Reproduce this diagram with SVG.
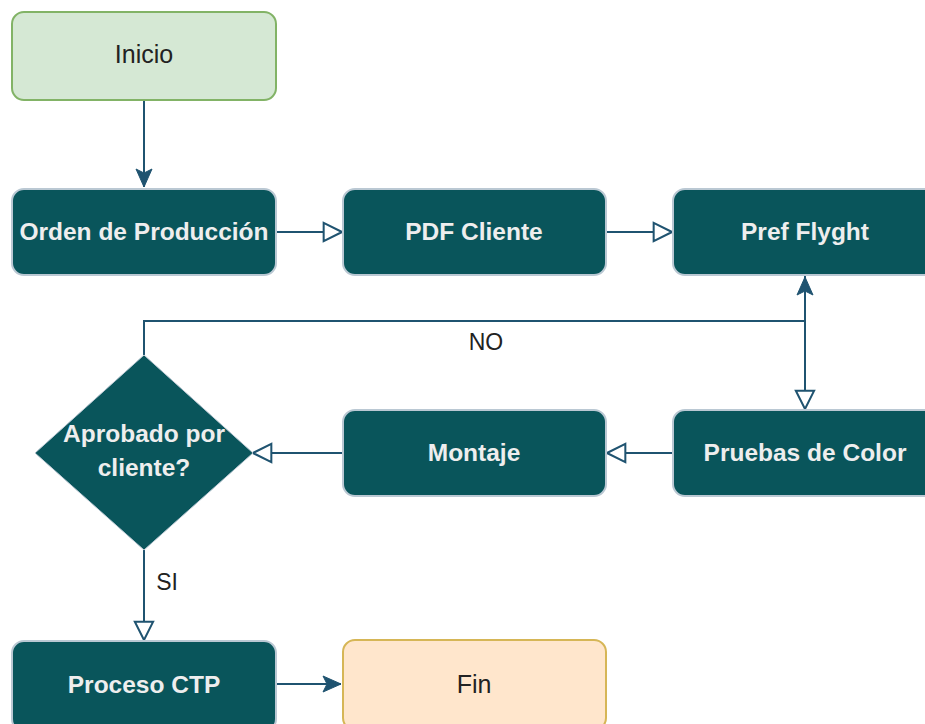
<svg xmlns="http://www.w3.org/2000/svg" width="925" height="724" viewBox="0 0 925 724">
<defs>
<style>
.n{fill:#09555B;stroke:#BAC8D3;stroke-width:2}
.t{font-family:"Liberation Sans",Arial,sans-serif;font-size:24.5px;fill:#EEEEEE;font-weight:bold;text-anchor:middle;dominant-baseline:central}
.d{font-family:"Liberation Sans",Arial,sans-serif;font-size:25px;fill:#222222;text-anchor:middle;dominant-baseline:central}
.l{font-family:"Liberation Sans",Arial,sans-serif;font-size:23px;fill:#222222;text-anchor:middle;dominant-baseline:central}
.c{fill:none;stroke:#1F5370;stroke-width:2}
</style>
<marker id="open" viewBox="0 0 24 24" refX="22" refY="12" markerWidth="22" markerHeight="22" markerUnits="userSpaceOnUse" orient="auto">
<path d="M2,2 L22,12 L2,22 Z" fill="#ffffff" stroke="#1F5370" stroke-width="2.2"/>
</marker>
<marker id="fill" viewBox="0 0 20 20" refX="19" refY="10" markerWidth="20" markerHeight="20" markerUnits="userSpaceOnUse" orient="auto">
<path d="M1,2 L19,10 L1,18 L5,10 Z" fill="#1F5370" stroke="#1F5370" stroke-width="1"/>
</marker>
</defs>
<rect width="925" height="724" fill="#ffffff"/>
<g id="connectors">
<path class="c" d="M144,100 L144,187" marker-end="url(#fill)"/>
<path class="c" d="M276,232 L342,232" marker-end="url(#open)"/>
<path class="c" d="M606,232 L672,232" marker-end="url(#open)"/>
<path class="c" d="M805,275 L805,409" marker-end="url(#open)"/>
<path class="c" d="M144,355 L144,321 L805,321 L805,277" marker-end="url(#fill)"/>
<path class="c" d="M673,453 L607,453" marker-end="url(#open)"/>
<path class="c" d="M343,453 L253,453" marker-end="url(#open)"/>
<path class="c" d="M144,550 L144,640" marker-end="url(#open)"/>
<path class="c" d="M276,684 L341,684" marker-end="url(#fill)"/>
<text class="l" x="486" y="342">NO</text>
<text class="l" x="167" y="582">SI</text>
</g>
<g id="inicio">
<rect x="12" y="12" width="264" height="88" rx="12" fill="#D5E8D4" stroke="#82B366" stroke-width="2"/>
<text class="d" x="144" y="54">Inicio</text>
</g>
<g id="orden">
<rect class="n" x="12" y="189" width="264" height="86" rx="12"/>
<text class="t" x="144" y="231">Orden de Producción</text>
</g>
<g id="pdf">
<rect class="n" x="343" y="189" width="263" height="86" rx="12"/>
<text class="t" x="474" y="231">PDF Cliente</text>
</g>
<g id="pref">
<rect class="n" x="673" y="189" width="264" height="86" rx="12"/>
<text class="t" x="805" y="231">Pref Flyght</text>
</g>
<g id="pruebas">
<rect class="n" x="673" y="410" width="264" height="86" rx="12"/>
<text class="t" x="805" y="452">Pruebas de Color</text>
</g>
<g id="montaje">
<rect class="n" x="343" y="410" width="263" height="86" rx="12"/>
<text class="t" x="474" y="452">Montaje</text>
</g>
<g id="aprobado">
<path d="M144,355 L253,453 L144,550 L35,453 Z" fill="#09555B" stroke="#BAC8D3" stroke-width="1"/>
<text class="t" x="144" y="433">Aprobado por</text>
<text class="t" x="144" y="467">cliente?</text>
</g>
<g id="proceso">
<rect class="n" x="12" y="641" width="264" height="90" rx="12"/>
<text class="t" x="144" y="684">Proceso CTP</text>
</g>
<g id="fin">
<rect x="343" y="640" width="263" height="90" rx="12" fill="#FFE6CC" stroke="#D6B656" stroke-width="2"/>
<text class="d" x="474" y="684">Fin</text>
</g>
</svg>
